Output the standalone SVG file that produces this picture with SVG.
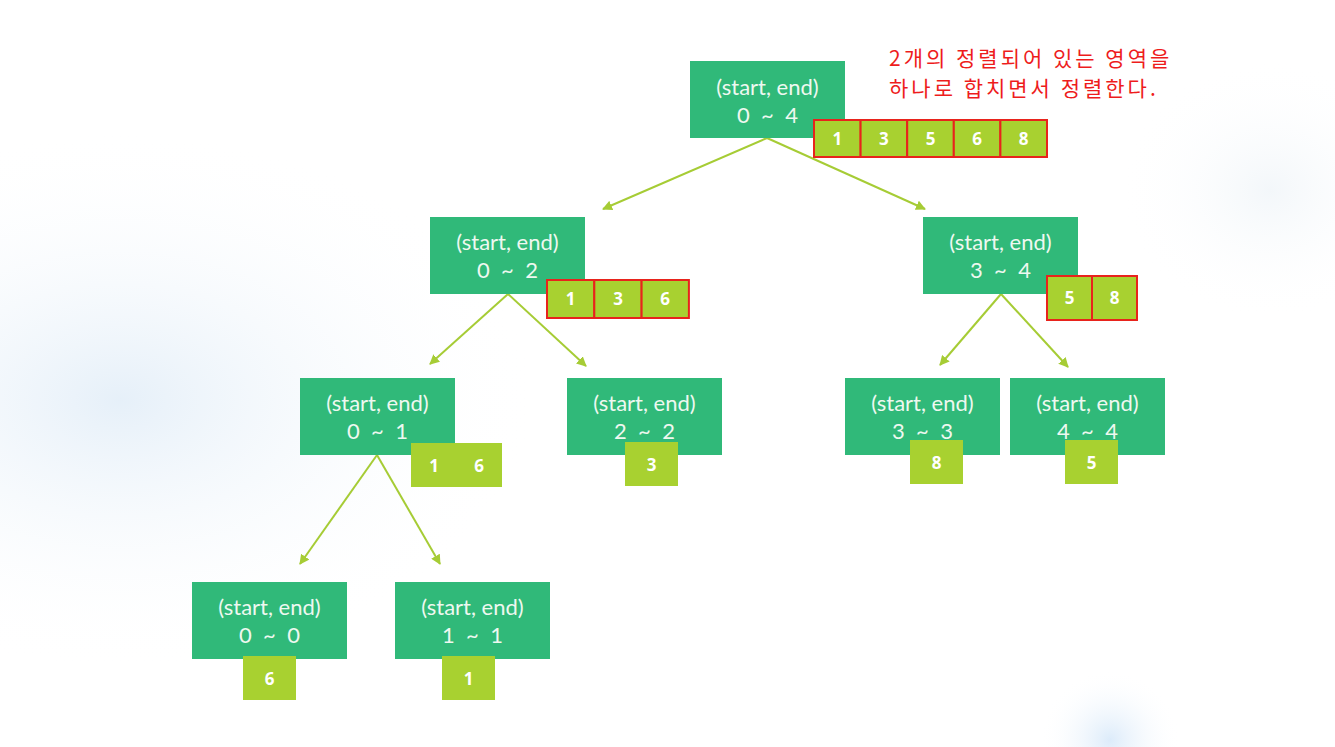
<svg xmlns="http://www.w3.org/2000/svg" width="1335" height="747" viewBox="0 0 1335 747">
<defs>
<radialGradient id="bgL" cx="0.5" cy="0.5" r="0.5">
<stop offset="0" stop-color="#e3eef8" stop-opacity="0.9"/>
<stop offset="1" stop-color="#ffffff" stop-opacity="0"/>
</radialGradient>
<radialGradient id="bgB" cx="0.5" cy="0.5" r="0.5">
<stop offset="0" stop-color="#dcebfa"/>
<stop offset="1" stop-color="#ffffff" stop-opacity="0"/>
</radialGradient>
<radialGradient id="bgR" cx="0.5" cy="0.5" r="0.5">
<stop offset="0" stop-color="#f3f7fa"/>
<stop offset="1" stop-color="#ffffff" stop-opacity="0"/>
</radialGradient>
<marker id="ah" viewBox="0 0 10 10" refX="9" refY="5" markerWidth="5" markerHeight="5" orient="auto" markerUnits="strokeWidth">
<path d="M0,0 L10,5 L0,10 z" fill="#a6cc35"/>
</marker>
<style>
.node{fill:#30b979}
.nt{font-family:Lato,"Open Sans","Liberation Sans",sans-serif;font-size:22px;fill:#eef8f0;text-anchor:middle;white-space:pre}
.cell{fill:#a8d130;stroke:#e8231c;stroke-width:2}
.box{fill:#a8d130}
.ct{font-family:"Open Sans","Liberation Sans",sans-serif;font-weight:bold;font-size:17px;fill:#ffffff;text-anchor:middle;white-space:pre}
.edge{stroke:#a6cc35;stroke-width:2;fill:none;marker-end:url(#ah)}
.note{font-family:"Noto Sans CJK KR","Noto Sans",sans-serif;font-size:21px;letter-spacing:3px;fill:#ee1c1c}
</style>
</defs>
<rect width="1335" height="747" fill="#ffffff"/>
<ellipse cx="120" cy="400" rx="420" ry="270" fill="url(#bgL)"/>
<ellipse cx="1110" cy="740" rx="70" ry="70" fill="url(#bgB)"/>
<ellipse cx="1270" cy="190" rx="150" ry="130" fill="url(#bgR)"/>

<g id="connectors">
<line class="edge" x1="767" y1="138" x2="603" y2="209"/>
<line class="edge" x1="767" y1="138" x2="925" y2="209"/>
<line class="edge" x1="508" y1="294" x2="430" y2="364"/>
<line class="edge" x1="508" y1="294" x2="586" y2="366"/>
<line class="edge" x1="1001" y1="294" x2="940" y2="365"/>
<line class="edge" x1="1001" y1="294" x2="1068" y2="367"/>
<line class="edge" x1="377" y1="455" x2="300" y2="564"/>
<line class="edge" x1="377" y1="455" x2="440" y2="564"/>
</g>

<g id="note">
<text class="note" x="889" y="66">2개의 정렬되어 있는 영역을</text>
<text class="note" x="889" y="96">하나로 합치면서 정렬한다.</text>
</g>

<g id="n04">
<rect class="node" x="690" y="61" width="155" height="77"/>
<text class="nt" x="767.5" y="95">(start, end)</text>
<text class="nt" x="767.5" y="123" xml:space="preserve">0  ~  4</text>
<rect class="cell" x="814" y="120" width="46.6" height="37"/>
<rect class="cell" x="860.6" y="120" width="46.6" height="37"/>
<rect class="cell" x="907.2" y="120" width="46.6" height="37"/>
<rect class="cell" x="953.8" y="120" width="46.6" height="37"/>
<rect class="cell" x="1000.4" y="120" width="46.6" height="37"/>
<text class="ct" x="837.3" y="145">1</text>
<text class="ct" x="883.9" y="145">3</text>
<text class="ct" x="930.5" y="145">5</text>
<text class="ct" x="977.1" y="145">6</text>
<text class="ct" x="1023.7" y="145">8</text>
</g>

<g id="n02">
<rect class="node" x="430" y="217" width="155" height="77"/>
<text class="nt" x="507.5" y="250">(start, end)</text>
<text class="nt" x="507.5" y="278" xml:space="preserve">0  ~  2</text>
<rect class="cell" x="547" y="280" width="47.3" height="38"/>
<rect class="cell" x="594.3" y="280" width="47.3" height="38"/>
<rect class="cell" x="641.6" y="280" width="47.3" height="38"/>
<text class="ct" x="570.6" y="305">1</text>
<text class="ct" x="618" y="305">3</text>
<text class="ct" x="665.2" y="305">6</text>
</g>

<g id="n34">
<rect class="node" x="923" y="217" width="155" height="77"/>
<text class="nt" x="1000.5" y="250">(start, end)</text>
<text class="nt" x="1000.5" y="278" xml:space="preserve">3  ~  4</text>
<rect class="cell" x="1047" y="276" width="45" height="44"/>
<rect class="cell" x="1092" y="276" width="45" height="44"/>
<text class="ct" x="1069.5" y="304">5</text>
<text class="ct" x="1114.5" y="304">8</text>
</g>

<g id="n01">
<rect class="node" x="300" y="378" width="155" height="77"/>
<text class="nt" x="377.5" y="411">(start, end)</text>
<text class="nt" x="377.5" y="439" xml:space="preserve">0  ~  1</text>
<rect class="box" x="411" y="443" width="91" height="44"/>
<text class="ct" x="434" y="472">1</text>
<text class="ct" x="479" y="472">6</text>
</g>

<g id="n22">
<rect class="node" x="567" y="378" width="155" height="77"/>
<text class="nt" x="644.5" y="411">(start, end)</text>
<text class="nt" x="644.5" y="439" xml:space="preserve">2  ~  2</text>
<rect class="box" x="625" y="442" width="53" height="44"/>
<text class="ct" x="651.5" y="471">3</text>
</g>

<g id="n33">
<rect class="node" x="845" y="378" width="155" height="77"/>
<text class="nt" x="922.5" y="411">(start, end)</text>
<text class="nt" x="922.5" y="439" xml:space="preserve">3  ~  3</text>
<rect class="box" x="910" y="440" width="53" height="44"/>
<text class="ct" x="936.5" y="469">8</text>
</g>

<g id="n44">
<rect class="node" x="1010" y="378" width="155" height="77"/>
<text class="nt" x="1087.5" y="411">(start, end)</text>
<text class="nt" x="1087.5" y="439" xml:space="preserve">4  ~  4</text>
<rect class="box" x="1065" y="440" width="53" height="44"/>
<text class="ct" x="1091.5" y="469">5</text>
</g>

<g id="n00">
<rect class="node" x="192" y="582" width="155" height="77"/>
<text class="nt" x="269.5" y="615">(start, end)</text>
<text class="nt" x="269.5" y="643" xml:space="preserve">0  ~  0</text>
<rect class="box" x="243" y="656" width="53" height="44"/>
<text class="ct" x="269.5" y="685">6</text>
</g>

<g id="n11">
<rect class="node" x="395" y="582" width="155" height="77"/>
<text class="nt" x="472.5" y="615">(start, end)</text>
<text class="nt" x="472.5" y="643" xml:space="preserve">1  ~  1</text>
<rect class="box" x="442" y="656" width="53" height="44"/>
<text class="ct" x="468.5" y="685">1</text>
</g>
</svg>
